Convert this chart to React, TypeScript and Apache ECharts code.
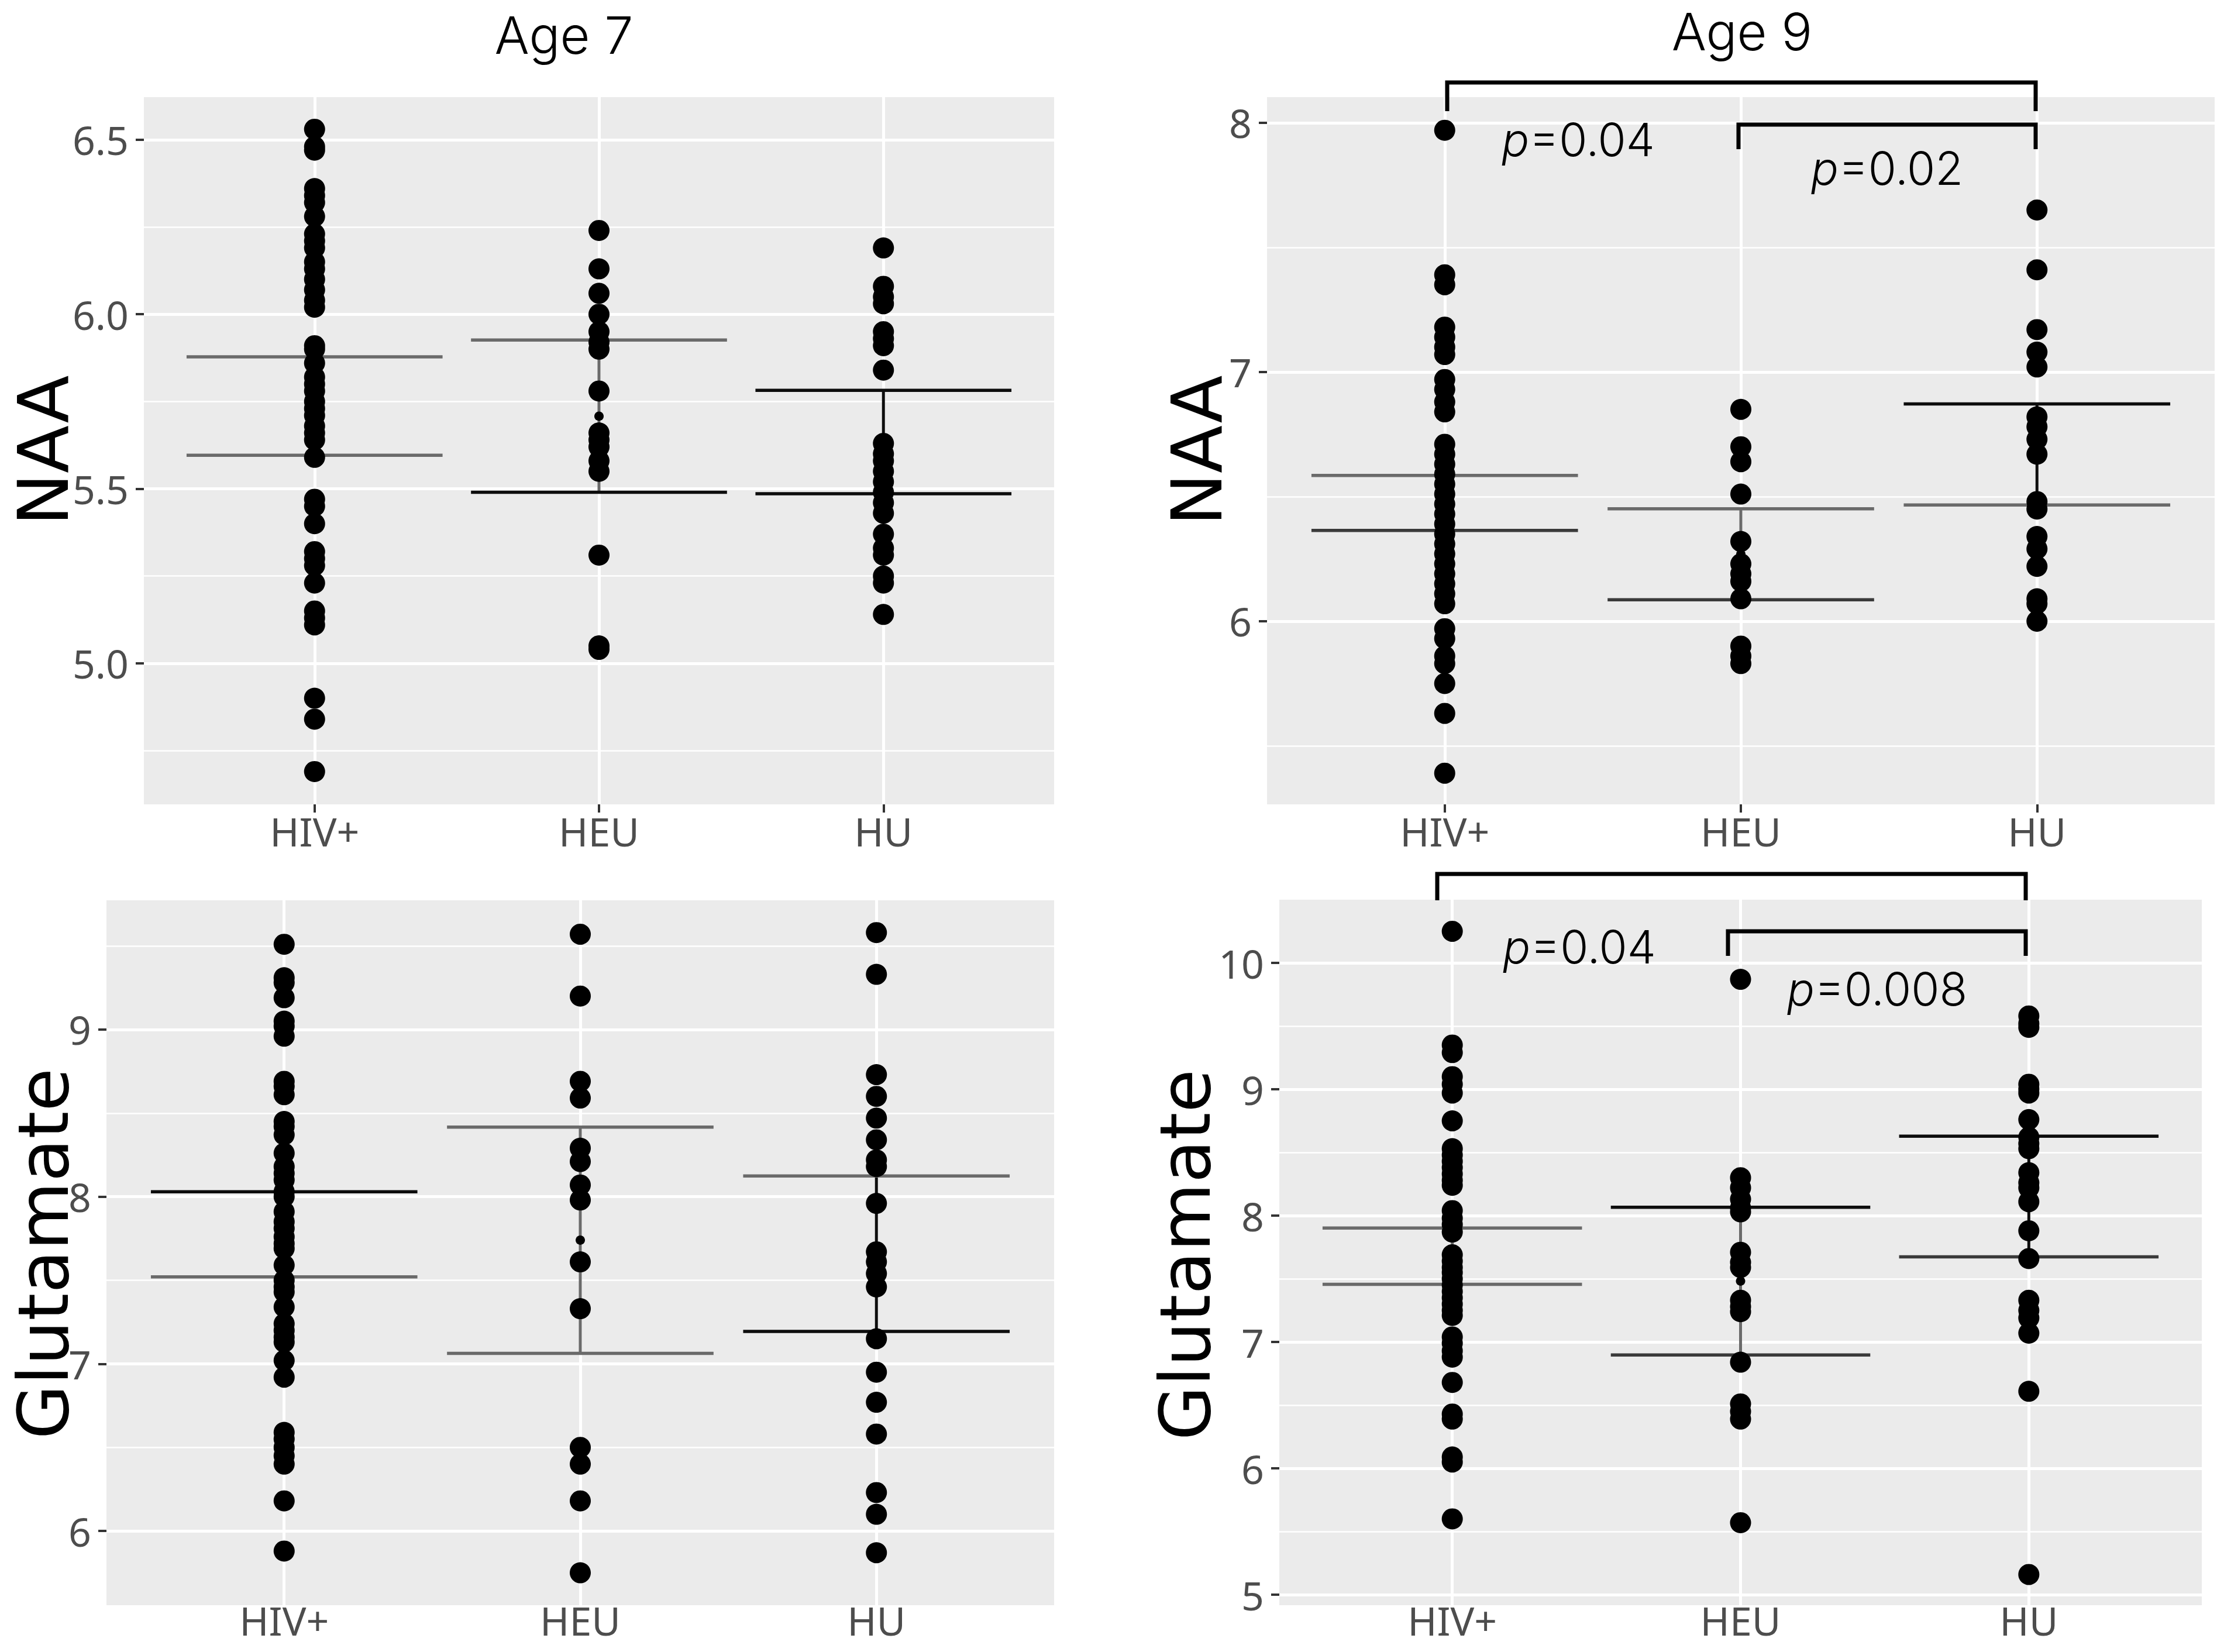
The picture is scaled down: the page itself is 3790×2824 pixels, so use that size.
import React, { useEffect, useRef } from "react";
import * as echarts from "echarts";

// ---------- categories ----------
const groups = ["HIV+", "HEU", "HU"];
const groupPos = [1, 2, 3];

// ---------- Age 7, NAA ----------
const naa7HIV = [6.53, 6.48, 6.47, 6.36, 6.34, 6.32, 6.28, 6.23, 6.21, 6.19, 6.15, 6.13, 6.1, 6.07, 6.04, 6.02, 5.91, 5.9, 5.86, 5.82, 5.8, 5.78, 5.75, 5.73, 5.71, 5.68, 5.66, 5.64, 5.59, 5.47, 5.45, 5.4, 5.32, 5.3, 5.28, 5.23, 5.15, 5.13, 5.11, 4.9, 4.84, 4.69];
const naa7HEU = [6.24, 6.13, 6.06, 6.0, 5.95, 5.92, 5.9, 5.78, 5.66, 5.64, 5.62, 5.58, 5.55, 5.31, 5.05, 5.04];
const naa7HU = [6.19, 6.08, 6.05, 6.03, 5.95, 5.93, 5.91, 5.84, 5.63, 5.6, 5.58, 5.55, 5.52, 5.49, 5.46, 5.43, 5.37, 5.33, 5.31, 5.25, 5.23, 5.14];
const naa7Low = [5.596, 5.49, 5.486];
const naa7High = [5.878, 5.926, 5.782];
const naa7Mean = [5.737, 5.708, 5.634];
const naa7Range = [4.596, 6.622];
const naa7Ticks = [5.0, 5.5, 6.0, 6.5];
const naa7Minor = [4.75, 5.25, 5.75, 6.25];

// ---------- Age 9, NAA ----------
const naa9HIV = [7.97, 7.39, 7.35, 7.18, 7.14, 7.1, 7.07, 6.97, 6.93, 6.88, 6.84, 6.71, 6.67, 6.63, 6.59, 6.55, 6.51, 6.47, 6.43, 6.39, 6.35, 6.31, 6.27, 6.23, 6.19, 6.15, 6.11, 6.07, 5.97, 5.93, 5.86, 5.83, 5.75, 5.63, 5.39];
const naa9HEU = [6.85, 6.7, 6.64, 6.51, 6.32, 6.23, 6.19, 6.16, 6.09, 5.9, 5.86, 5.83];
const naa9HU = [7.65, 7.41, 7.17, 7.08, 7.02, 6.82, 6.78, 6.73, 6.67, 6.48, 6.45, 6.34, 6.29, 6.22, 6.09, 6.07, 6.0];
const naa9Low = [6.364, 6.086, 6.466];
const naa9High = [6.585, 6.451, 6.872];
const naa9Mean = [6.475, 6.269, 6.669];
const naa9Range = [5.265, 8.103];
const naa9Ticks = [6, 7, 8];
const naa9Minor = [5.5, 6.5, 7.5];

// ---------- Age 7, Glutamate ----------
const glu7HIV = [9.51, 9.31, 9.28, 9.19, 9.05, 9.02, 8.96, 8.69, 8.66, 8.61, 8.45, 8.42, 8.37, 8.26, 8.18, 8.14, 8.1, 8.03, 8.0, 7.91, 7.85, 7.81, 7.76, 7.72, 7.69, 7.59, 7.5, 7.46, 7.43, 7.34, 7.24, 7.2, 7.16, 7.13, 7.02, 6.92, 6.59, 6.55, 6.5, 6.45, 6.4, 6.18, 5.88];
const glu7HEU = [9.57, 9.2, 8.69, 8.59, 8.29, 8.21, 8.07, 7.98, 7.61, 7.33, 6.5, 6.4, 6.18, 5.75];
const glu7HU = [9.58, 9.33, 8.73, 8.6, 8.47, 8.34, 8.22, 8.18, 7.96, 7.67, 7.61, 7.54, 7.46, 7.15, 6.95, 6.77, 6.58, 6.23, 6.1, 5.87];
const glu7Low = [7.52, 7.063, 7.194];
const glu7High = [8.029, 8.416, 8.124];
const glu7Mean = [7.775, 7.74, 7.659];
const glu7Range = [5.556, 9.773];
const glu7Ticks = [6, 7, 8, 9];
const glu7Minor = [6.5, 7.5, 8.5, 9.5];

// ---------- Age 9, Glutamate ----------
const glu9HIV = [10.25, 9.35, 9.29, 9.1, 9.04, 8.97, 8.75, 8.53, 8.48, 8.43, 8.38, 8.33, 8.28, 8.24, 8.04, 7.98, 7.93, 7.87, 7.69, 7.64, 7.59, 7.55, 7.5, 7.45, 7.4, 7.35, 7.3, 7.25, 7.21, 7.04, 6.99, 6.93, 6.88, 6.68, 6.43, 6.39, 6.09, 6.05, 5.6];
const glu9HEU = [9.87, 8.3, 8.22, 8.13, 8.06, 8.03, 7.71, 7.63, 7.59, 7.33, 7.28, 7.24, 6.84, 6.51, 6.45, 6.39, 5.57];
const glu9HU = [9.58, 9.52, 9.49, 9.04, 9.0, 8.97, 8.76, 8.62, 8.57, 8.53, 8.34, 8.26, 8.22, 8.11, 7.88, 7.66, 7.33, 7.25, 7.19, 7.07, 6.61, 5.16];
const glu9Low = [7.456, 6.897, 7.674];
const glu9High = [7.902, 8.066, 8.629];
const glu9Mean = [7.679, 7.482, 8.152];
const glu9Range = [4.917, 10.5];
const glu9Ticks = [5, 6, 7, 8, 9, 10];
const glu9Minor = [5.5, 6.5, 7.5, 8.5, 9.5];

// ---------- annotation texts ----------
const panelTitles = ["Age 7", "Age 9"];
const yTitles = ["NAA", "NAA", "Glutamate", "Glutamate"];
const pNaa9 = ["0.04", "0.02"];
const pGlu9 = ["0.04", "0.008"];

// ---------- styles (line shades for error bars: [low, high, vertical]) ----------
const SHADE: Record<string, string> = { k: "#0d0d0d", d: "#3a3a3a", g: "#6a6a6a" };
const shadesNaa7 = [["g", "g", "g"], ["k", "g", "g"], ["k", "k", "k"]];
const shadesNaa9 = [["d", "g", "g"], ["d", "g", "g"], ["g", "k", "k"]];
const shadesGlu7 = [["g", "k", "k"], ["g", "g", "g"], ["k", "g", "k"]];
const shadesGlu9 = [["g", "g", "g"], ["d", "k", "g"], ["d", "k", "k"]];

const grids = [
  { left: 246, top: 166, width: 1556, height: 1209 },
  { left: 2166, top: 166, width: 1620, height: 1209 },
  { left: 182, top: 1539, width: 1620, height: 1205 },
  { left: 2187, top: 1538, width: 1577, height: 1206 },
];
const xLabelMargins = [20, 20, 0, 0];
const xTickShown = [true, true, false, false];

const panels = [
  { cols: [naa7HIV, naa7HEU, naa7HU], low: naa7Low, high: naa7High, mean: naa7Mean, range: naa7Range, ticks: naa7Ticks, minor: naa7Minor, shades: shadesNaa7, fmt: (v: number) => v.toFixed(1) },
  { cols: [naa9HIV, naa9HEU, naa9HU], low: naa9Low, high: naa9High, mean: naa9Mean, range: naa9Range, ticks: naa9Ticks, minor: naa9Minor, shades: shadesNaa9, fmt: (v: number) => String(v) },
  { cols: [glu7HIV, glu7HEU, glu7HU], low: glu7Low, high: glu7High, mean: glu7Mean, range: glu7Range, ticks: glu7Ticks, minor: glu7Minor, shades: shadesGlu7, fmt: (v: number) => String(v) },
  { cols: [glu9HIV, glu9HEU, glu9HU], low: glu9Low, high: glu9High, mean: glu9Mean, range: glu9Range, ticks: glu9Ticks, minor: glu9Minor, shades: shadesGlu9, fmt: (v: number) => String(v) },
];

const TICK_FONT = "Noto Sans";
const TITLE_FONT = "Inter, Roboto, 'Liberation Sans', sans-serif";
const HALF = 0.45;

function buildOption() {
  const xAxis: any[] = [];
  const yAxis: any[] = [];
  const series: any[] = [];
  panels.forEach((p, i) => {
    xAxis.push({
      type: "value",
      gridIndex: i,
      min: 0.4,
      max: 3.6,
      axisLine: { show: false },
      axisTick: { show: xTickShown[i], customValues: groupPos, length: 14, lineStyle: { color: "#333333", width: 4 } },
      axisLabel: {
        customValues: groupPos,
        formatter: (v: number) => groups[Math.round(v) - 1],
        color: "#4D4D4D",
        fontSize: 68,
        lineHeight: 50,
        fontFamily: TICK_FONT,
        margin: xLabelMargins[i],
      },
      splitLine: { show: true, lineStyle: { color: "#ffffff", width: 5 } },
    });
    yAxis.push({
      type: "value",
      gridIndex: i,
      min: p.range[0],
      max: p.range[1],
      axisLine: { show: false },
      axisTick: { show: true, customValues: p.ticks, length: 14, lineStyle: { color: "#333333", width: 4 } },
      axisLabel: {
        customValues: p.ticks,
        formatter: p.fmt,
        color: "#4D4D4D",
        fontSize: 68,
        fontFamily: TICK_FONT,
        margin: 26,
      },
      splitLine: { show: true, lineStyle: { color: "#ffffff", width: 5 } },
    });
    yAxis.push({
      type: "value",
      gridIndex: i,
      position: "left",
      min: p.range[0],
      max: p.range[1],
      axisLine: { show: false },
      axisTick: { show: false, customValues: p.minor },
      axisLabel: { show: false, customValues: p.minor },
      splitLine: { show: true, lineStyle: { color: "#ffffff", width: 2.5 } },
    });

    const barData = groupPos.map((x, k) => [x, p.low[k], p.high[k]]);
    const shades = p.shades;
    series.push({
      type: "custom",
      xAxisIndex: i,
      yAxisIndex: 2 * i,
      z: 2,
      silent: true,
      encode: { x: 0, y: [1, 2] },
      data: barData,
      renderItem: (params: any, api: any) => {
        const x = api.value(0);
        const lo = api.value(1);
        const hi = api.value(2);
        const s = shades[params.dataIndex];
        const lL = api.coord([x - HALF, lo]);
        const lR = api.coord([x + HALF, lo]);
        const hL = api.coord([x - HALF, hi]);
        const hR = api.coord([x + HALF, hi]);
        const c = api.coord([x, lo]);
        const ch = api.coord([x, hi]);
        return {
          type: "group",
          children: [
            { type: "line", shape: { x1: c[0], y1: c[1], x2: ch[0], y2: ch[1] }, style: { stroke: SHADE[s[2]], lineWidth: 5 } },
            { type: "line", shape: { x1: lL[0], y1: lL[1], x2: lR[0], y2: lR[1] }, style: { stroke: SHADE[s[0]], lineWidth: 5.5 } },
            { type: "line", shape: { x1: hL[0], y1: hL[1], x2: hR[0], y2: hR[1] }, style: { stroke: SHADE[s[1]], lineWidth: 5.5 } },
          ],
        };
      },
    });
    const pts: number[][] = [];
    p.cols.forEach((col, k) => col.forEach((v) => pts.push([groupPos[k], v])));
    series.push({
      type: "scatter",
      xAxisIndex: i,
      yAxisIndex: 2 * i,
      z: 3,
      silent: true,
      symbol: "circle",
      symbolSize: 36,
      itemStyle: { color: "#000000", opacity: 1 },
      data: pts,
    });
    series.push({
      type: "scatter",
      xAxisIndex: i,
      yAxisIndex: 2 * i,
      z: 4,
      silent: true,
      symbol: "circle",
      symbolSize: 16,
      itemStyle: { color: "#000000", opacity: 1 },
      data: groupPos.map((x, k) => [x, p.mean[k]]),
    });
  });

  const bracket = (pts: number[][]) => ({
    type: "polyline",
    shape: { points: pts },
    style: { stroke: "#000000", lineWidth: 7, fill: null },
    z: 10,
  });
  const ptext = (val: string, x: number, y: number) => ({
    type: "text",
    x,
    y,
    z: 10,
    style: {
      text: "{i|p}=" + val,
      fill: "#000000",
      fontSize: 78,
      fontFamily: TITLE_FONT,
      fontWeight: 300,
      align: "center",
      verticalAlign: "middle",
      rich: { i: { fontStyle: "italic", fontSize: 78, fontFamily: TITLE_FONT, fontWeight: 300, fill: "#000000" } },
    },
  });
  const titleText = (t: string, x: number, y: number) => ({
    type: "text",
    x,
    y,
    z: 10,
    style: { text: t, fill: "#000000", fontSize: 88, lineHeight: 72, fontFamily: TITLE_FONT, fontWeight: 300, align: "center", verticalAlign: "middle" },
  });
  const yTitle = (t: string, x: number, y: number) => ({
    type: "text",
    x,
    y,
    rotation: Math.PI / 2,
    z: 10,
    style: { text: t, fill: "#000000", fontSize: 120, lineHeight: 96, fontFamily: "'DejaVu Sans'", align: "center", verticalAlign: "middle" },
  });

  const graphic = [
    titleText(panelTitles[0], 964, 60),
    titleText(panelTitles[1], 2978, 54),
    yTitle(yTitles[0], 74, 770),
    yTitle(yTitles[1], 2046, 770),
    yTitle(yTitles[2], 74, 2143),
    yTitle(yTitles[3], 2026, 2145),
    bracket([[2474, 190], [2474, 141], [3480, 141], [3480, 190]]),
    bracket([[2972, 255], [2972, 213], [3480, 213], [3480, 255]]),
    ptext(pNaa9[0], 2698, 238),
    ptext(pNaa9[1], 3226, 287),
    bracket([[2457, 1539], [2457, 1494], [3463, 1494], [3463, 1539]]),
    bracket([[2954, 1634], [2954, 1592], [3463, 1592], [3463, 1634]]),
    ptext(pGlu9[0], 2700, 1618),
    ptext(pGlu9[1], 3209, 1690),
  ];

  return {
    animation: false,
    backgroundColor: "#ffffff",
    grid: grids.map((g) => ({ ...g, show: true, backgroundColor: "#EBEBEB", borderWidth: 0, containLabel: false })),
    xAxis,
    yAxis,
    series,
    graphic,
  };
}

export default function App() {
  const ref = useRef<HTMLDivElement>(null);
  useEffect(() => {
    if (!ref.current) return;
    const chart = echarts.init(ref.current, undefined, { renderer: "svg" });
    chart.setOption(buildOption() as any);
    return () => chart.dispose();
  }, []);
  return (
    <div
      ref={ref}
      style={{ position: "fixed", left: 0, top: 0, width: 3790, height: 2824, background: "#ffffff" }}
    />
  );
}
